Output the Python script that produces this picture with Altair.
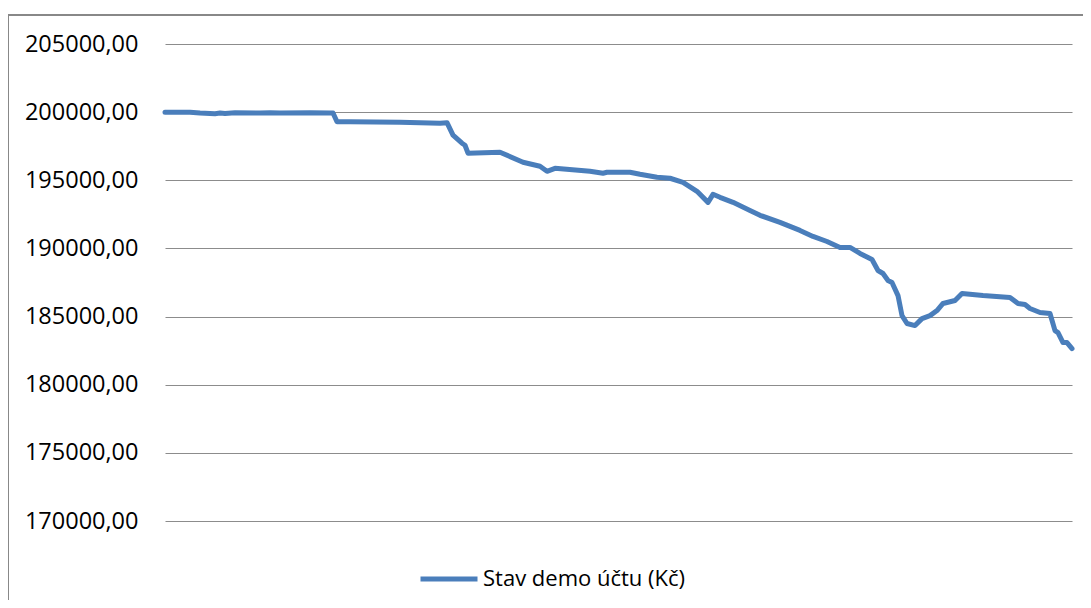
import altair as alt
import pandas as pd

# trade index (x) and account balance in CZK (y)
trade = [0, 25, 35, 50, 55, 60, 70, 95, 105, 115, 145, 165, 168, 172, 185, 235, 255, 275,
         282, 288, 297, 300, 303, 335, 358, 375, 382, 390, 425, 438, 442, 465, 475, 492,
         505, 518, 532, 543, 548, 555, 568, 585, 595, 615, 635, 648, 662, 675, 685, 695,
         707, 713, 718, 723, 727, 733, 737, 742, 750, 757, 765, 772, 778, 790, 797, 818,
         845, 853, 860, 865, 875, 885, 890, 893, 898, 902, 907]
balance = [200000, 200000, 199930, 199890, 199930, 199900, 199960, 199930, 199960, 199930,
           199960, 199940, 199940, 199300, 199300, 199260, 199230, 199190,
           199230, 198310, 197720, 197570, 196990, 197060, 196320, 196030, 195660, 195880,
           195660, 195520, 195590, 195590, 195440, 195220,
           195150, 194850, 194190, 193380, 193970, 193750, 193380, 192790, 192430,
           191910, 191320, 190880, 190510, 190070, 190070, 189630,
           189190, 188380, 188160, 187650, 187500, 186540, 185070, 184490, 184340, 184850,
           185070, 185440, 185960, 186180, 186690, 186540,
           186400, 185960, 185880, 185590, 185300, 185220, 183970, 183820, 183090, 183090, 182650]
series_name = "Stav demo účtu (Kč)"
y_ticks = [170000, 175000, 180000, 185000, 190000, 195000, 200000, 205000]

df = pd.DataFrame({"t": trade, "v": balance, "s": [series_name] * len(trade)})

FONT = "Open Sans"
BLUE = "#4a7ebb"
GRID = "#8c8c8c"

line = alt.Chart(df).mark_line(
    strokeWidth=5, strokeCap="round", strokeJoin="round"
).encode(
    x=alt.X("t:Q", axis=None, scale=alt.Scale(domain=[0, 907], nice=False, zero=False)),
    y=alt.Y(
        "v:Q",
        scale=alt.Scale(domain=[170000, 205000], nice=False, zero=False),
        axis=alt.Axis(
            values=y_ticks, title=None, domain=False, ticks=False, grid=True,
            gridColor=GRID, gridWidth=1.2, labelFont=FONT, labelFontSize=23.5,
            labelColor="#000000", labelPadding=27,
            labelExpr="replace(format(datum.value, '.2f'), '.', ',')",
        ),
    ),
    color=alt.Color(
        "s:N",
        scale=alt.Scale(range=[BLUE]),
        legend=alt.Legend(
            title=None, orient="none", legendX=253, legendY=504,
            symbolType="stroke", symbolSize=3249, symbolStrokeWidth=5,
            labelFont=FONT, labelFontSize=22, labelColor="#000000", labelOffset=3,
            labelLimit=0,
        ),
    ),
)

border_top = alt.Chart(df).mark_rule(color="#888888", strokeWidth=1.3).encode(
    x=alt.value(-157), x2=alt.value(940), y=alt.value(-29)
)
border_left = alt.Chart(df).mark_rule(color="#888888", strokeWidth=1.3).encode(
    x=alt.value(-157), y=alt.value(-29), y2=alt.value(600)
)

chart = alt.layer(line, border_top, border_left).properties(
    width=907, height=477,
    autosize=alt.AutoSizeParams(type="none"),
    padding={"left": 157, "top": 36, "right": 11, "bottom": 79},
    background="white",
).configure_view(stroke=None)

chart.save("out.html", embed_options={"renderer": "svg", "actions": False})
